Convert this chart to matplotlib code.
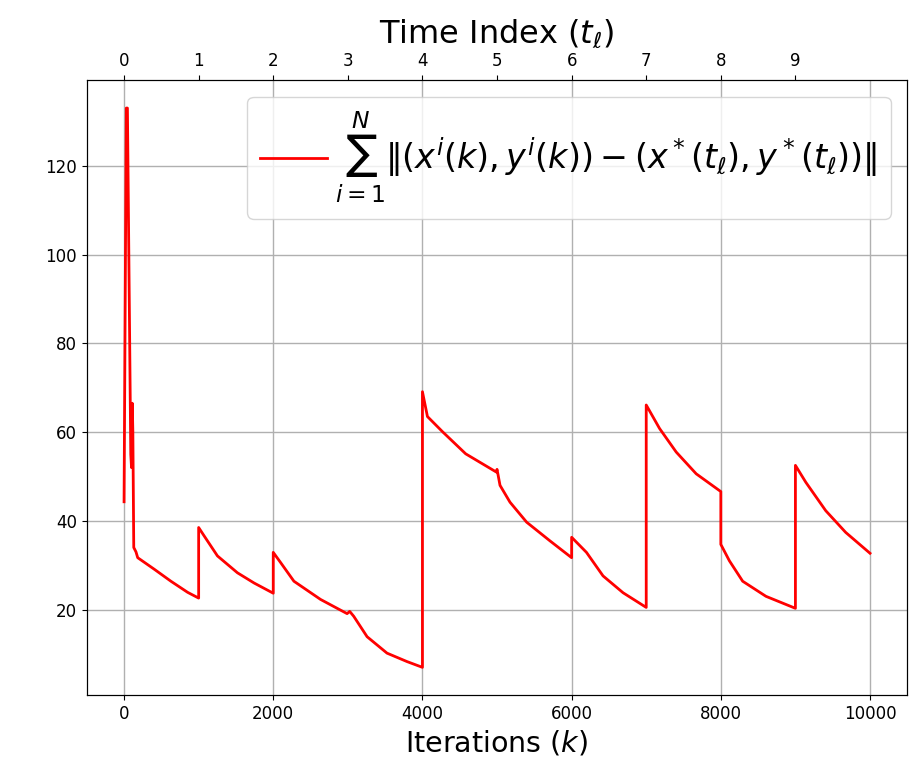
import numpy as np
import matplotlib
matplotlib.use('Agg')
import matplotlib.pyplot as plt

# Iterações (k) e a soma das distâncias ao ótimo variável no tempo
k = np.array([0, 30, 45, 90, 100, 110, 118, 130, 160, 183, 405, 628, 852, 1000,
              1000, 1074, 1252, 1520, 1743, 2000,
              2000, 2099, 2277, 2634, 2990, 3025, 3079, 3258, 3525, 3793, 4000,
              4000, 4067, 4268, 4580, 4990, 5000, 5040, 5174, 5397, 5709, 6000,
              6000, 6199, 6421, 6690, 7000,
              7000, 7179, 7402, 7670, 8000,
              8000, 8115, 8293, 8605, 9000,
              9000, 9139, 9406, 9674, 10000])
dist = np.array([44.3, 133.0, 133.0, 55.0, 52.0, 66.5, 60.0, 34.0, 33.0, 31.7, 29.1, 26.4, 23.9, 22.6,
                 38.5, 36.6, 32.1, 28.3, 26.0, 23.7,
                 32.9, 30.6, 26.4, 22.3, 19.1, 19.6, 18.5, 13.9, 10.2, 8.3, 7.0,
                 69.1, 63.5, 60.1, 55.1, 51.0, 51.6, 48.0, 44.2, 39.7, 35.5, 31.7,
                 36.3, 32.9, 27.6, 23.8, 20.5,
                 66.1, 60.8, 55.5, 50.6, 46.6,
                 34.7, 31.0, 26.4, 23.0, 20.3,
                 52.5, 48.7, 42.3, 37.4, 32.7])

# Eixo superior: índice de tempo
t_pos = np.arange(0, 10000, 1000)
t_lab = [str(i) for i in range(10)]

label = r'$\sum_{i=1}^{N}\|(x^i(k),y^i(k))-(x^*(t_\ell),y^*(t_\ell))\|$'

fig, ax = plt.subplots(figsize=(9.23, 7.7), dpi=100)
fig.subplots_adjust(left=0.094, right=0.983, top=0.896, bottom=0.097)

ax.plot(k, dist, color='red', linewidth=2, label=label)
ax.grid(True, color='#b0b0b0', linewidth=1)
ax.set_xlabel(r'Iterations ($k$)', fontsize=20.5)
ax.tick_params(labelsize=12)
ax.legend(loc='upper right', fontsize=24, handlelength=2.0, handletextpad=0.25)

ax2 = ax.twiny()
ax2.set_xlim(ax.get_xlim())
ax2.set_xticks(t_pos)
ax2.set_xticklabels(t_lab)
ax2.tick_params(labelsize=12)
ax2.set_xlabel(r'Time Index ($t_\ell$)', fontsize=23, labelpad=7)

fig.savefig('out.png', dpi=100)
